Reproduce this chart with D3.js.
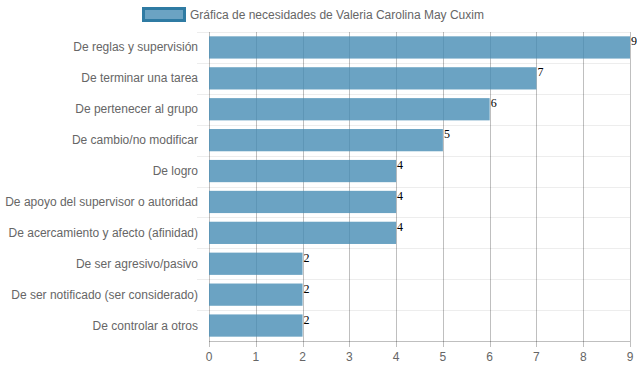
<!DOCTYPE html>
<html>
<head>
<meta charset="utf-8">
<script src="https://cdn.jsdelivr.net/npm/d3@7"></script>
<style>
  body { margin: 0; background: #fff; }
  svg text { font-family: "Liberation Sans", Arial, sans-serif; }
</style>
</head>
<body>
<div id="vis"></div>
<script>
'use strict';

//data
var categories = [
    'De reglas y supervisión',
    'De terminar una tarea',
    'De pertenecer al grupo',
    'De cambio/no modificar',
    'De logro',
    'De apoyo del supervisor o autoridad',
    'De acercamiento y afecto (afinidad)',
    'De ser agresivo/pasivo',
    'De ser notificado (ser considerado)',
    'De controlar a otros'
];
var values = [9, 7, 6, 5, 4, 4, 4, 2, 2, 2];
var xTicks = [0, 1, 2, 3, 4, 5, 6, 7, 8, 9];
var seriesName = 'Gráfica de necesidades de Valeria Carolina May Cuxim';

//layout
var width = 637, height = 371;
var margin = { top: 32, right: 7, bottom: 30, left: 209 };
var dim = { w: width - margin.left - margin.right, h: height - margin.top - margin.bottom };

var x = d3.scaleLinear().domain([0, 9]).range([0, dim.w]);
var y = d3.scaleBand().domain(categories).range([0, dim.h]).paddingInner(0.28).paddingOuter(0.14);
var band = d3.scaleBand().domain(categories).range([0, dim.h]);

var svg = d3.select('#vis')
    .append('svg')
    .attr('width', width)
    .attr('height', height);

//legend
svg.append('rect')
    .attr('x', 143.5).attr('y', 8.5)
    .attr('width', 41).attr('height', 12)
    .style('fill', 'rgba(70,140,180,0.8)')
    .style('stroke', '#2f7ba3')
    .style('stroke-width', 3);
svg.append('text')
    .attr('x', 190).attr('y', 18.5)
    .text(seriesName)
    .style('font-size', '12px')
    .style('fill', '#666');

var g = svg.append('g')
    .attr('transform', 'translate(' + margin.left + ', ' + margin.top + ')');

//horizontal grid (category boundaries)
g.selectAll('.hgrid')
    .data(categories)
    .enter()
    .append('line')
    .attr('x1', -12).attr('x2', dim.w)
    .attr('y1', function (d) { return Math.round(band(d)) + 0.5; })
    .attr('y2', function (d) { return Math.round(band(d)) + 0.5; })
    .style('stroke', 'rgba(0,0,0,0.07)');

//vertical grid
g.selectAll('.vgrid')
    .data(xTicks)
    .enter()
    .append('line')
    .attr('x1', function (d) { return Math.round(x(d)) + 0.5; })
    .attr('x2', function (d) { return Math.round(x(d)) + 0.5; })
    .attr('y1', 0).attr('y2', dim.h + 6)
    .style('stroke', function (d) { return d === 0 ? 'rgba(0,0,0,0.25)' : 'rgba(0,0,0,0.25)'; });

//bars
g.selectAll('.bar')
    .data(values)
    .enter()
    .append('rect')
    .attr('x', x(0))
    .attr('y', function (d, i) { return y(categories[i]); })
    .attr('width', function (d) { return x(d) - x(0); })
    .attr('height', y.bandwidth())
    .style('fill', 'rgba(70,140,180,0.8)');

//value labels
g.selectAll('.val')
    .data(values)
    .enter()
    .append('text')
    .attr('x', function (d) { return x(d) + 1; })
    .attr('y', function (d, i) { return y(categories[i]) + y.bandwidth() / 2 - 2; })
    .text(function (d) { return d; })
    .style('font-family', '"Liberation Serif", "Times New Roman", serif')
    .style('font-size', '12px')
    .style('fill', '#000');

//x axis
g.append('line')
    .attr('x1', 0).attr('x2', dim.w)
    .attr('y1', dim.h + 0.5).attr('y2', dim.h + 0.5)
    .style('stroke', 'rgba(0,0,0,0.25)');
g.selectAll('.xtick')
    .data(xTicks)
    .enter()
    .append('text')
    .attr('x', function (d) { return x(d); })
    .attr('y', dim.h + 20)
    .attr('text-anchor', 'middle')
    .text(function (d) { return d; })
    .style('font-size', '12px')
    .style('fill', '#666');

//y labels
g.selectAll('.ylab')
    .data(categories)
    .enter()
    .append('text')
    .attr('x', -11)
    .attr('y', function (d) { return y(d) + y.bandwidth() / 2 + 4; })
    .attr('text-anchor', 'end')
    .text(function (d) { return d; })
    .style('font-size', '12px')
    .style('fill', '#666');
</script>
</body>
</html>
